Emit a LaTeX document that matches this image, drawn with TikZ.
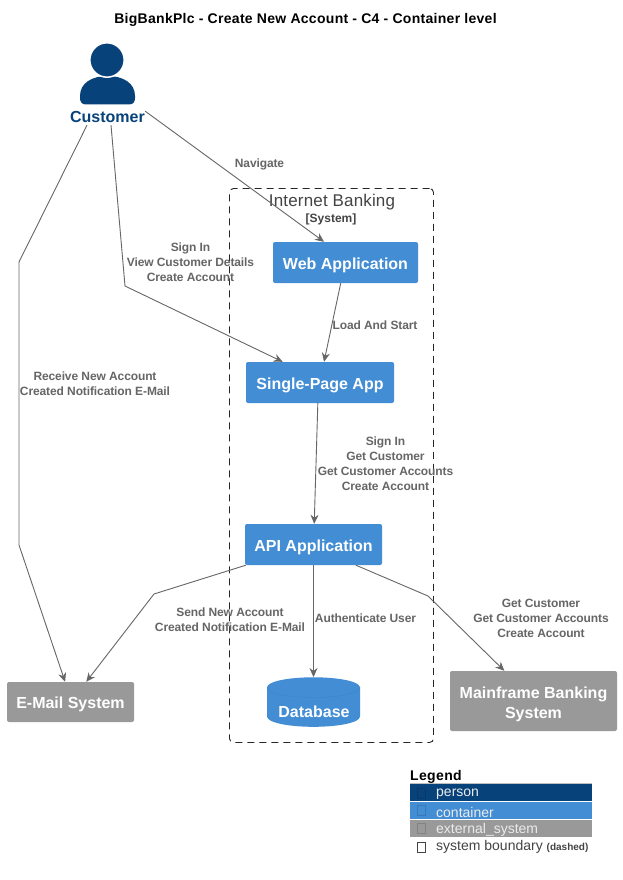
\documentclass[tikz,border=0pt]{standalone}
\usepackage{fontspec}
\setmainfont{Liberation Sans}
\usepackage{xcolor}
\usetikzlibrary{arrows.meta}
\definecolor{personblue}{HTML}{08427B}
\definecolor{containerblue}{HTML}{438DD5}
\definecolor{externalgray}{HTML}{999999}
\definecolor{linegray}{HTML}{666666}
\definecolor{boundarygray}{HTML}{444444}
\tikzset{
  container/.style={fill=containerblue,rounded corners=2pt,inner sep=0pt,align=center,text=white,
    text height=13pt,text depth=0pt,font=\fontsize{16}{20}\selectfont\bfseries},
  external/.style={container,fill=externalgray},
  rel/.style={draw=linegray,line width=0.9pt,-{Stealth[length=9pt,width=8pt]}},
  rellabel/.style={inner sep=0pt,align=center,text=linegray,yshift=-0.3pt,
    font=\fontsize{12}{15}\selectfont\bfseries\addfontfeature{LetterSpace=-0.9}},
  legendtext/.style={inner sep=0pt,anchor=west,font=\fontsize{14}{16}\selectfont}
}

\begin{document}
\begin{tikzpicture}[x=1pt,y=-1pt]
  \useasboundingbox[fill=white] (0,0) rectangle (622,880);

  % タイトル
  \node[inner sep=0pt,font=\fontsize{14}{16}\selectfont\bfseries\addfontfeature{LetterSpace=2.1}] (title) at (305.5,20)
    {BigBankPlc - Create New Account - C4 - Container level};

  % システム境界
  \node[draw=black!85,dash pattern=on 7pt off 5pt,line width=0.9pt,rounded corners=4pt,
    minimum width=204pt,minimum height=554pt,inner sep=0pt] (boundary) at (331.5,465.5) {};
  \node[inner sep=0pt,text=boundarygray,font=\fontsize{17}{20}\selectfont\addfontfeature{LetterSpace=1}] (boundaryname) at (332,202) {Internet Banking};
  \node[inner sep=0pt,text=boundarygray,font=\fontsize{12}{15}\selectfont\bfseries] (boundarytype) at (331,219) {[System]};

  % 人物
  \fill[personblue] (80,98) -- (80,96) .. controls (80,83) and (92,76) .. (107.5,76)
    .. controls (123,76) and (135,83) .. (135,96) -- (135,98)
    .. controls (135,102) and (133,104.5) .. (129,104.5) -- (86,104.5)
    .. controls (82,104.5) and (80,102) .. (80,98) -- cycle;
  \filldraw[personblue,draw=white,line width=1.5pt] (107,60) circle (17.2pt);
  \node[inner sep=0pt,minimum width=75pt,minimum height=17pt,text=personblue,
    font=\fontsize{16}{20}\selectfont\bfseries] (customer) at (107.5,116.5) {Customer};

  % コンテナ
  \node[container,minimum width=145pt,minimum height=41pt] (webapp) at (345.5,262.5) {Web Application};
  \node[container,minimum width=148pt,minimum height=41pt] (spa) at (320,382.5) {Single-Page App};
  \node[container,minimum width=137pt,minimum height=41pt] (api) at (313.5,544.5) {API Application};

  % データベース
  \fill[containerblue] (267,687.5) .. controls (267,681.5) and (288,677.3) .. (313.5,677.3)
    .. controls (339,677.3) and (360,681.5) .. (360,687.5) -- (360,716.5)
    .. controls (360,722.5) and (339,726.8) .. (313.5,726.8)
    .. controls (288,726.8) and (267,722.5) .. (267,716.5) -- cycle;
  \draw[containerblue!92!black,line width=0.3pt] (267,687.5) .. controls (267,693.5) and (288,697.5) .. (313.5,697.5)
    .. controls (339,697.5) and (360,693.5) .. (360,687.5);
  \node[inner sep=0pt,minimum width=93pt,minimum height=49.5pt] (database) at (313.5,702) {};
  \node[inner sep=0pt,text=white,font=\fontsize{16}{20}\selectfont\bfseries] (databasename) at (314,712) {Database};

  % 外部システム
  \node[external,minimum width=127pt,minimum height=40pt] (email) at (70.5,702) {E-Mail System};
  \node[external,minimum width=167pt,minimum height=60pt,text height=34pt] (mainframe) at (533.5,701) {Mainframe Banking\\System};

  % 折れ点
  \coordinate (leftA) at (19,262);
  \coordinate (leftB) at (19,545);
  \coordinate (signA) at (125,286);
  \coordinate (mailA) at (154,594);
  \coordinate (mainA) at (428,596);

  % 矢印
  \draw[rel] (customer.8.3) -- (webapp.136.4);
  \draw[rel] (customer.292.4) -- (signA) -- (spa.151.7);
  \draw[rel] (customer.203.5) -- (leftA) -- (leftB) -- (email.105.4);
  \draw[rel] (webapp.257.6) -- (spa.79);
  \draw[rel] (spa.264.4) -- (api.88.6);
  \draw[rel] (api.south) -- (database.north);
  \draw[rel] (api.197.9) -- (mailA) -- (email.52.2);
  \draw[rel] (api.334.8) -- (mainA) -- (mainframe.134.5);

  % 矢印のラベル
  \node[rellabel] (navigate) at (259.5,164.5) {Navigate};
  \node[rellabel] (signin) at (190.5,262) {Sign In\\View Customer Details\\Create Account};
  \node[rellabel] (load) at (375,324.5) {Load And Start};
  \node[rellabel] (calls) at (385.5,463.5) {Sign In\\Get Customer\\Get Customer Accounts\\Create Account};
  \node[rellabel] (receive) at (95,383) {Receive New Account\\Created Notification E-Mail};
  \node[rellabel] (send) at (230,619) {Send New Account\\Created Notification E-Mail};
  \node[rellabel] (auth) at (365.5,618) {Authenticate User};
  \node[rellabel] (getcust) at (541,618) {Get Customer\\Get Customer Accounts\\Create Account};

  % 凡例
  \node[inner sep=0pt,anchor=west,font=\fontsize{14}{16}\selectfont\bfseries\addfontfeature{LetterSpace=2.5}] (legend) at (410,777) {Legend};
  \draw[lightgray,line width=0.8pt] (410,783.5) -- (592,783.5);
  \foreach \y/\c/\t in {784/personblue/person,801.5/containerblue/container,819.5/externalgray/external\_system} {
    \fill[\c] (410,\y) rectangle (592,\y+17);
    \draw[\c!85!black,line width=0.5pt] (417.5,\y+4) rectangle (425,\y+14);
    \node[legendtext,text=white!92!black] at (436,\y+10.5) {\t};
  }
  \draw[boundarygray,line width=0.6pt] (417.5,842) rectangle (425,852);
  \node[legendtext,text=boundarygray] (legendboundary) at (436,847) {system boundary \fontsize{10}{12}\selectfont\bfseries(dashed)};
\end{tikzpicture}
\end{document}
